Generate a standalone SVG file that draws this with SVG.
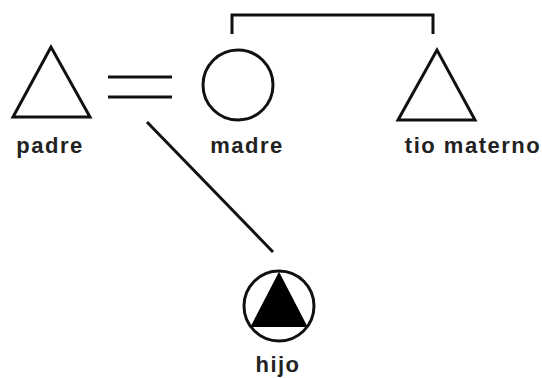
<svg xmlns="http://www.w3.org/2000/svg" width="542" height="378" viewBox="0 0 542 378">
<style>
.s{fill:none;stroke:#111;stroke-width:3}
.l{fill:none;stroke:#111;stroke-width:3}
.t{font-family:"Liberation Sans",Arial,sans-serif;font-weight:bold;font-size:22px;fill:#222;text-anchor:middle;letter-spacing:1.5px}
</style>
<rect width="542" height="378" fill="#fff"/>
<g id="connectors">
<line class="l" x1="108" y1="77" x2="172" y2="77"/>
<line class="l" x1="108" y1="97" x2="172" y2="97"/>
<polyline class="l" points="232,34 232,15 433,15 433,34"/>
<line class="l" x1="147" y1="122" x2="273" y2="252"/>
</g>
<g id="padre">
<polygon class="s" points="51,47 13,117 90,117"/>
<text class="t" x="50" y="153">padre</text>
</g>
<g id="madre">
<circle class="s" cx="238" cy="85" r="35"/>
<text class="t" x="247" y="153">madre</text>
</g>
<g id="tio">
<polygon class="s" points="437,50 398,120 475,120"/>
<text class="t" x="473" y="153">tio materno</text>
</g>
<g id="hijo">
<circle class="s" cx="279" cy="306" r="35"/>
<polygon points="279,274 252,326 306,326" fill="#000" stroke="#000" stroke-width="2"/>
<text class="t" x="278" y="372">hijo</text>
</g>
</svg>
